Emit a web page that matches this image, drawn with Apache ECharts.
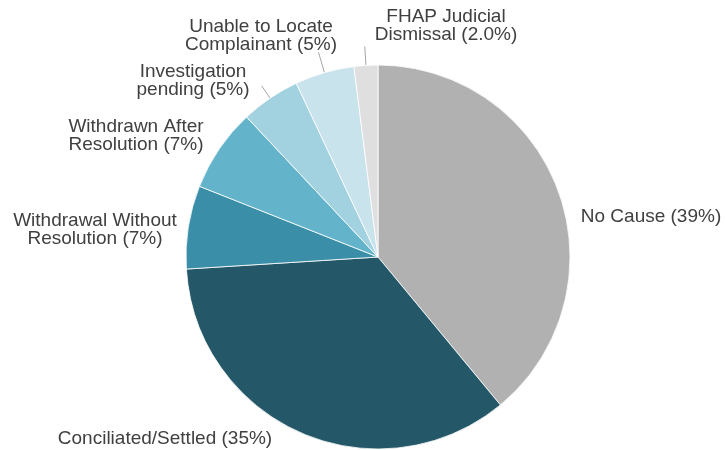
<!DOCTYPE html>
<html>
<head>
<meta charset="utf-8">
<script src="https://cdn.jsdelivr.net/npm/echarts@6/dist/echarts.min.js"></script>
<style>
  html, body { margin: 0; padding: 0; background: #fff; }
  #main { width: 725px; height: 450px; }
</style>
</head>
<body>
<div id="main"></div>
<script>
const categories = ['No Cause', 'Conciliated/Settled', 'Withdrawal Without\nResolution', 'Withdrawn After\nResolution', 'Investigation\npending', 'Unable to Locate\nComplainant', 'FHAP Judicial\nDismissal'];
const values = [39, 35, 7, 7, 5, 5, 2];
const valueLabels = ['39%', '35%', '7%', '7%', '5%', '5%', '2.0%'];
const colors = ['#b1b1b1', '#245868', '#3a8ea8', '#63b4cb', '#a2d1df', '#c9e3ec', '#dfdfdf'];

// where each label's centre sits (Excel placed these by hand)
const labelX = [651, 165, 95, 136, 193, 261, 446];
const labelY = [217, 439, 230, 136, 81, 36, 26];
// leader lines only on the three small slices at the top
const lineLen = [0, 0, 0, 0, 15, 21, 19];

const CX = 378, CY = 257, R = 192;

const total = values.reduce(function (a, b) { return a + b; }, 0);
const midAngle = [];
let acc = 0;
values.forEach(function (v) {
    midAngle.push((acc + v / 2) / total * Math.PI * 2);
    acc += v;
});

function leader(i) {
    const s = Math.sin(midAngle[i]), c = Math.cos(midAngle[i]);
    return [
        [CX + R * s, CY - R * c],
        [CX + (R + lineLen[i]) * s, CY - (R + lineLen[i]) * c]
    ];
}

const chart = echarts.init(document.getElementById('main'));

const data = categories.map(function (name, i) {
    return {
        name: name,
        value: values[i],
        itemStyle: { color: colors[i] },
        labelLine: { show: lineLen[i] > 0 }
    };
});

const option = {
    animation: false,
    series: [
        {
            type: 'pie',
            center: [CX, CY],
            radius: R,
            startAngle: 90,
            clockwise: true,
            itemStyle: {
                borderColor: '#ffffff',
                borderWidth: 0.8
            },
            label: {
                show: true,
                position: 'outside',
                overflow: 'none',
                fontFamily: 'Liberation Sans, Arial, sans-serif',
                fontSize: 19,
                lineHeight: 18,
                color: '#404040',
                align: 'center',
                formatter: function (p) {
                    return p.name + ' (' + valueLabels[p.dataIndex] + ')';
                }
            },
            labelLine: {
                show: true,
                length: 10,
                length2: 0,
                lineStyle: { color: '#a6a6a6', width: 1 }
            },
            labelLayout: function (p) {
                const i = p.dataIndex;
                return {
                    x: labelX[i],
                    y: labelY[i],
                    align: 'center',
                    verticalAlign: 'middle',
                    labelLinePoints: leader(i)
                };
            },
            data: data
        }
    ]
};
chart.setOption(option);
</script>
</body>
</html>
